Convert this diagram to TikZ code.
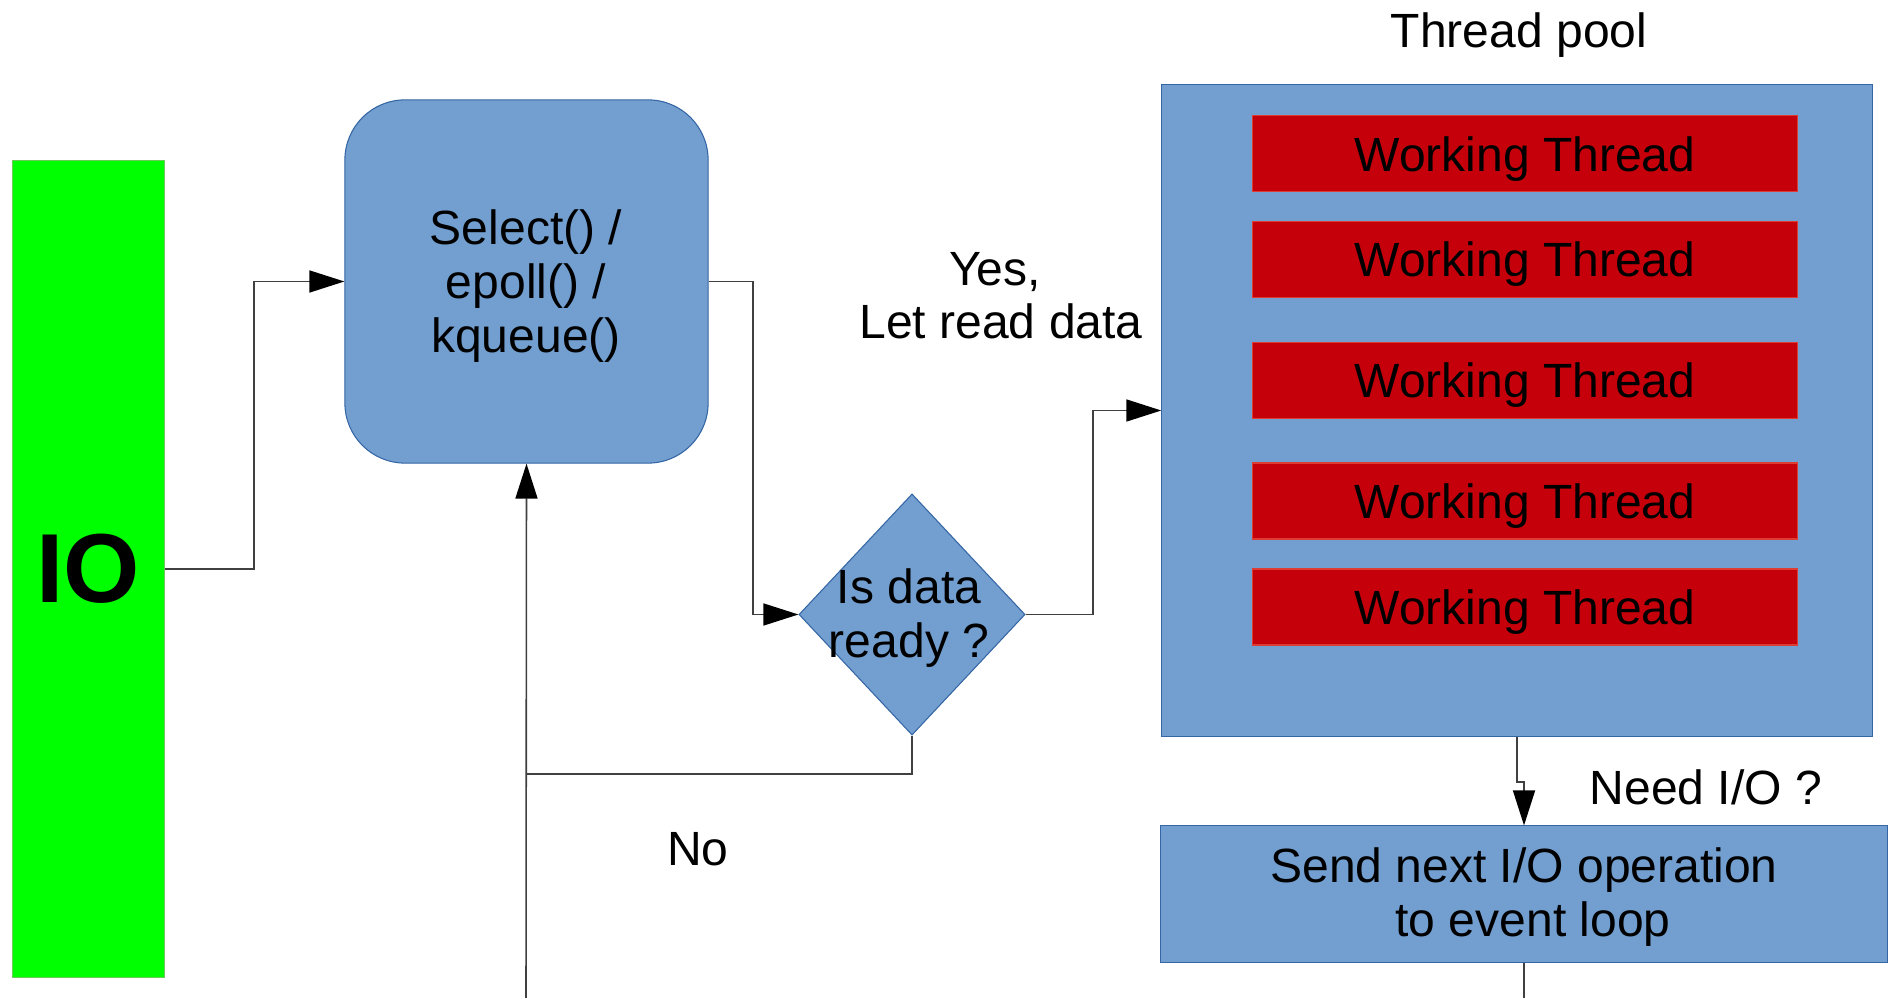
\documentclass[tikz,border=0pt]{standalone}
\usepackage{fontspec}
\setmainfont{Liberation Sans}
\usetikzlibrary{arrows.meta,shapes.geometric}
\definecolor{boxblue}{RGB}{114,159,207}
\definecolor{edgeblue}{RGB}{52,101,164}
\definecolor{threadred}{RGB}{197,0,11}
\definecolor{threadedge}{RGB}{220,60,50}
\definecolor{iogreen}{RGB}{0,255,0}
\definecolor{ioedge}{RGB}{110,200,90}
\definecolor{wire}{RGB}{64,64,64}

\begin{document}
\begin{tikzpicture}[x=0.01cm,y=-0.01cm,
  txt/.style={font=\fontsize{13.66pt}{15.36pt}\selectfont, inner sep=0pt, align=center},
  bluebox/.style={fill=boxblue, draw=edgeblue, line width=0.3pt, inner sep=0pt},
  thread/.style={fill=threadred, draw=threadedge, line width=0.3pt,
    minimum width=5.45cm, minimum height=0.76cm, inner sep=0pt,
    font=\fontsize{13.66pt}{15.36pt}\selectfont, text height=0.35cm, text depth=0pt},
  conn/.style={draw=wire, line width=0.45pt},
  arr/.style={conn, -{Triangle[length=0.35cm,width=0.22cm,color=black]}}]

% canvas
\fill[white] (0,0) rectangle (1892,998);
\useasboundingbox (0,0) rectangle (1892,998);

% IO source
\node[fill=iogreen, draw=ioedge, line width=0.3pt, minimum width=1.51cm, minimum height=8.16cm,
  inner sep=0pt, font=\bfseries\fontsize{27.9pt}{30pt}\selectfont] (io) at (88.5,569) {IO};

% event demultiplexer
\node[bluebox, rounded corners=0.6cm, minimum width=3.63cm, minimum height=3.63cm] (sel) at (526.5,281.5) {};
\node[txt] (seltext) at (526,286.5) {Select() /\\epoll() /\\kqueue()};

% decision
\node[diamond, bluebox, minimum width=2.26cm, minimum height=2.41cm] (dia) at (912,614.5) {};
\node[txt] (diatext) at (909,618.5) {Is data\\ready ?};

% thread pool
\node[txt, anchor=base] (tp) at (1519,48) {Thread pool};
\node[bluebox, minimum width=7.1cm, minimum height=6.51cm] (pool) at (1517,410.5) {};
\node[thread] (w1) at (1525,153.7) {Working Thread};
\node[thread] (w2) at (1525,259.4) {Working Thread};
\node[thread] (w3) at (1525,380.4) {Working Thread};
\node[thread] (w4) at (1525,501) {Working Thread};
\node[thread] (w5) at (1525,607) {Working Thread};

% follow-up I/O
\node[bluebox, minimum width=7.26cm, minimum height=1.36cm] (send) at (1524,894) {};
\node[txt] (sendtext) at (1527,897.5) {Send next I/O operation\hspace*{0.06cm}\\\hspace*{0.12cm}to event loop};

% labels
\node[txt, anchor=base] (yes1) at (995,286) {Yes,};
\node[txt, anchor=base] (yes2) at (1001,339) {Let read data};
\node[txt, anchor=base] (no) at (698,865) {No};
\node[txt, anchor=base] (needio) at (1706,804) {Need I/O ?};

% routing points
\coordinate (j1) at (254,400);
\coordinate (j2) at (753,450);
\coordinate (j3) at (1093,500);
\coordinate (loopjoin) at (526,774);
\coordinate (selin) at (526,998);
\coordinate (sendout) at (1524,998);

% connectors
\draw[arr] (io.east) -| (j1) |- (sel.west);
\draw[arr] (sel.east) -| (j2) |- (dia.west);
\draw[arr] (dia.east) -| (j3) |- (pool.west);
\draw[conn] (dia.south) |- (loopjoin);
\draw[arr] (selin) -- (sel.south);
\draw[arr] (pool.south) -- ++(0,45) -| (send.north);
\draw[conn] (send.south) -- (sendout);
\end{tikzpicture}
\end{document}
